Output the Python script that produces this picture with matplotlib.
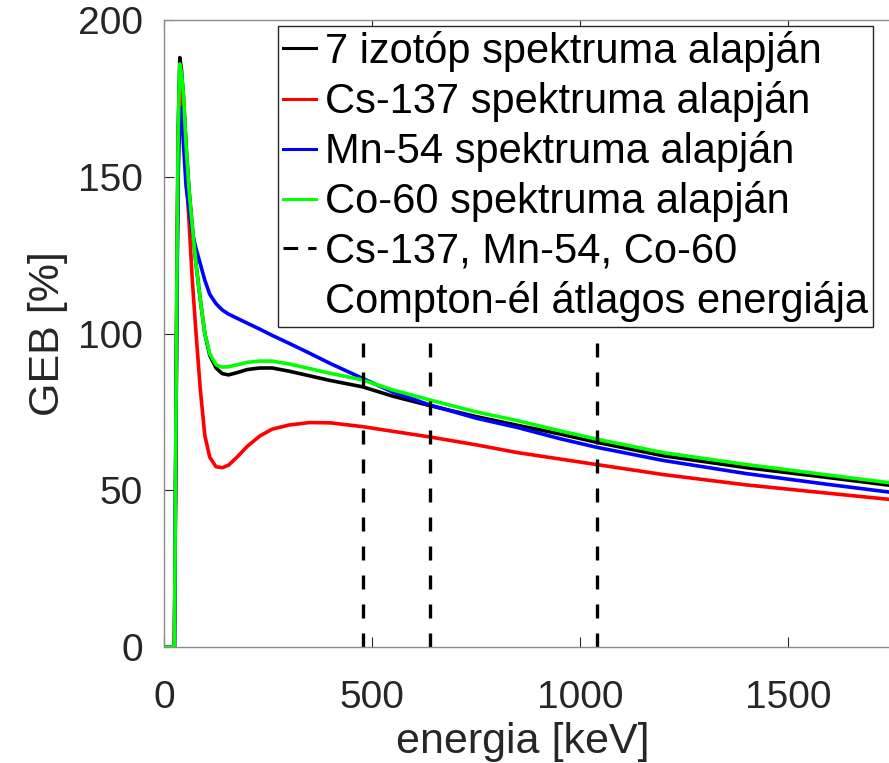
import matplotlib
matplotlib.use("Agg")
import matplotlib.pyplot as plt
from matplotlib.lines import Line2D

plt.rcParams['font.family'] = ['Liberation Sans', 'DejaVu Sans']

# energy grid [keV] and GEB [%]
energy = [0, 20, 25, 28, 31, 34, 38, 42, 47, 53, 60, 68, 77, 87, 98, 110, 125,
          140, 155, 175, 200, 230, 260, 300, 350, 400, 477, 550, 639, 750, 850,
          950, 1040, 1200, 1400, 1600, 1750]

geb_7iso = [0, 0, 0, 60, 120, 165, 188, 184, 175, 160, 146, 134, 122, 111, 100,
            93, 89, 87.2, 86.8, 87.5, 88.5, 89, 89, 88, 86.5, 85, 83, 80, 77,
            73.5, 70.7, 68, 65.3, 61, 57.2, 54, 51.5]
geb_cs137 = [0, 0, 0, 55, 115, 160, 180, 178, 166, 151, 136, 117, 100, 82.5,
             67.5, 60.5, 57.5, 57.2, 58, 60.5, 64, 67.3, 69.5, 70.8, 71.6, 71.5,
             70.3, 68.8, 67, 64.5, 62, 60, 58.2, 55, 51.7, 49, 47]
geb_mn54 = [0, 0, 0, 55, 110, 150, 170, 172, 160, 147, 140, 132, 127, 122.3,
            117, 112.5, 109.5, 107.5, 106.2, 104.9, 103.3, 101.4, 99.4, 96.9,
            93.7, 90.4, 85.7, 81.3, 77.2, 73, 70, 66.5, 63.7, 59.5, 55.3, 51.8,
            49.3]
geb_co60 = [0, 0, 0, 60, 120, 165, 186, 183, 176, 160, 146, 134, 122, 111, 100,
            93.5, 90, 89.3, 89.4, 90, 90.8, 91.2, 91.2, 90.3, 88.8, 87.3, 85.2,
            82, 78.8, 75, 72.2, 69, 66.3, 62, 58.2, 54.8, 52.3]

# average Compton edge energies of Cs-137, Mn-54, Co-60 [keV]
compton_edges = [477, 639, 1040]
edge_top = 100

labels = ["7 izotóp spektruma alapján",
          "Cs-137 spektruma alapján",
          "Mn-54 spektruma alapján",
          "Co-60 spektruma alapján",
          "Cs-137, Mn-54, Co-60",
          "Compton-él átlagos energiája"]
colors = ['black', 'red', 'blue', (0, 1, 0)]

fig = plt.figure(figsize=(8.89, 7.63), dpi=100)
ax = fig.add_axes([0.1845, 0.152, 0.8425, 0.8218])

lw = 2.6
series = [geb_7iso, geb_cs137, geb_mn54, geb_co60]
for ys, c in zip(series, colors):
    ax.plot(energy, ys, color=c, lw=lw)
for e in compton_edges:
    ax.plot([e, e], [0, edge_top], color='black', lw=2.4, dashes=(4.2, 4.5))

ax.set_xlim(0, 1800)
ax.set_ylim(0, 200)
ax.set_xticks([0, 500, 1000, 1500])
ax.set_yticks([0, 50, 100, 150, 200])
ax.tick_params(direction='in', length=7, width=0.8, labelsize=28,
               colors='#262626', top=True, right=True)
ax.tick_params(axis='x', pad=24)
ax.tick_params(axis='y', pad=15)
for sp in ax.spines.values():
    sp.set_color('#8c8c8c')
    sp.set_linewidth(1.0)

ax.set_xlabel("energia [keV]", fontsize=31, color='#262626')
ax.set_ylabel("GEB [%]", fontsize=31, color='#262626')
ax.xaxis.set_label_coords(0.4786, -0.12)
ax.yaxis.set_label_coords(-0.128, 0.5)

handles = [Line2D([], [], color=c, lw=2.2) for c in colors]
handles.append(Line2D([], [], color='black', lw=2.2, dashes=(4.8, 3.3)))
handles.append(Line2D([], [], color='none', lw=0))
leg = ax.legend(handles, labels, loc='upper left',
                bbox_to_anchor=(278 / 889, 1 - 26 / 763),
                bbox_transform=fig.transFigure, fontsize=30, frameon=True,
                fancybox=False, framealpha=1, edgecolor='#262626',
                handlelength=0.8, handletextpad=0.2, borderpad=0.12,
                labelspacing=0.22, borderaxespad=0)
leg.get_frame().set_linewidth(1.0)

fig.savefig('out.png', dpi=100)
